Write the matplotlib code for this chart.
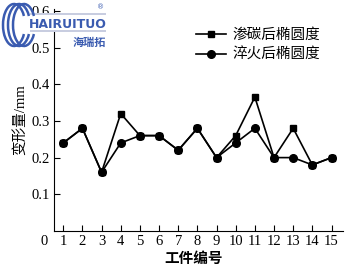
import matplotlib
matplotlib.use("Agg")
import matplotlib.pyplot as plt
from matplotlib.patches import Arc, Rectangle

workpieces = list(range(1, 16))
carburized = [0.24, 0.28, 0.16, 0.32, 0.26, 0.26, 0.22, 0.28, 0.20, 0.26, 0.365, 0.20, 0.28, 0.18, 0.20]
quenched = [0.24, 0.28, 0.16, 0.24, 0.26, 0.26, 0.22, 0.28, 0.20, 0.24, 0.28, 0.20, 0.20, 0.18, 0.20]
series_names = ["渗碳后椭圆度", "淬火后椭圆度"]
xtick_labels = [str(i) for i in range(0, 16)]
yticks = [0.1, 0.2, 0.3, 0.4, 0.5, 0.6]

serif = ["Liberation Serif", "Noto Sans CJK SC"]
cjk = ["Noto Sans CJK SC", "DejaVu Sans"]

W, H = 350, 267
fig = plt.figure(figsize=(3.5, 2.67), dpi=100)
ax = fig.add_axes([0.126, 0.135, 0.854, 0.831])

ax.plot(workpieces, carburized, color="black", lw=1.2, marker="s", ms=5, label=series_names[0])
ax.plot(workpieces, quenched, color="black", lw=1.2, marker="o", ms=5.5, label=series_names[1])

ax.set_xlim(0, 15.6)
ax.set_ylim(0, 0.605)
ax.spines["left"].set_position(("data", 0.5))
ax.spines["bottom"].set_bounds(0.5, 15.6)
ax.spines["top"].set_visible(False)
ax.spines["right"].set_visible(False)

ax.set_xticks(range(0, 16))
ax.set_xticklabels(xtick_labels, fontfamily=serif, fontsize=10.5)
ax.set_yticks(yticks)
ax.set_yticklabels([f"{v:.1f}" for v in yticks], fontfamily=serif, fontsize=10.5)
ax.tick_params(direction="in", length=4, width=0.8, pad=3)
ax.xaxis.get_major_ticks()[0].tick1line.set_visible(False)

ax.set_xlabel("工件编号", fontfamily=cjk, fontsize=10.5, fontweight="bold", labelpad=1)
ax.set_ylabel("变形量/mm", fontfamily=serif, fontsize=10.5, labelpad=3)

leg = ax.legend(loc="upper left", bbox_to_anchor=(0.49, 0.94), frameon=False,
                prop={"family": cjk, "size": 10.5}, handlelength=2.0,
                handletextpad=0.5, labelspacing=0.4, borderaxespad=0)

# watermark logo
blue = "#3a5bb0"
def fx(px):
    return px / W
def fy(py):
    return 1 - py / H

band = Rectangle((fx(30), fy(31)), fx(106) - fx(30), (31 - 14) / H, transform=fig.transFigure,
                 facecolor="white", edgecolor="none", zorder=2)
fig.add_artist(band)
for yy in (14, 31):
    r = Rectangle((fx(30), fy(yy) - 0.5 / H), fx(106) - fx(30), 1.2 / H, transform=fig.transFigure,
                  facecolor="#c8cde0", edgecolor="none", zorder=2)
    fig.add_artist(r)
for cx in (14, 19, 24):
    a = Arc((fx(cx), fy(25)), 22 / W, 42 / H, theta1=50, theta2=310,
            transform=fig.transFigure, ec=blue, lw=1.8, zorder=3)
    fig.add_artist(a)
fig.text(fx(68), fy(24.5), "HAIRUITUO", color=blue, fontsize=9, fontweight="bold",
         ha="center", va="center", family="DejaVu Sans", zorder=4)
fig.text(fx(89), fy(42), "海瑞拓", color=blue, fontsize=8, fontweight="bold",
         ha="center", va="center", family=cjk, zorder=4)
fig.text(fx(101), fy(7), "®", color=blue, fontsize=5, ha="center", va="center",
         family="DejaVu Sans", zorder=4)

fig.savefig("out.png", dpi=100)
